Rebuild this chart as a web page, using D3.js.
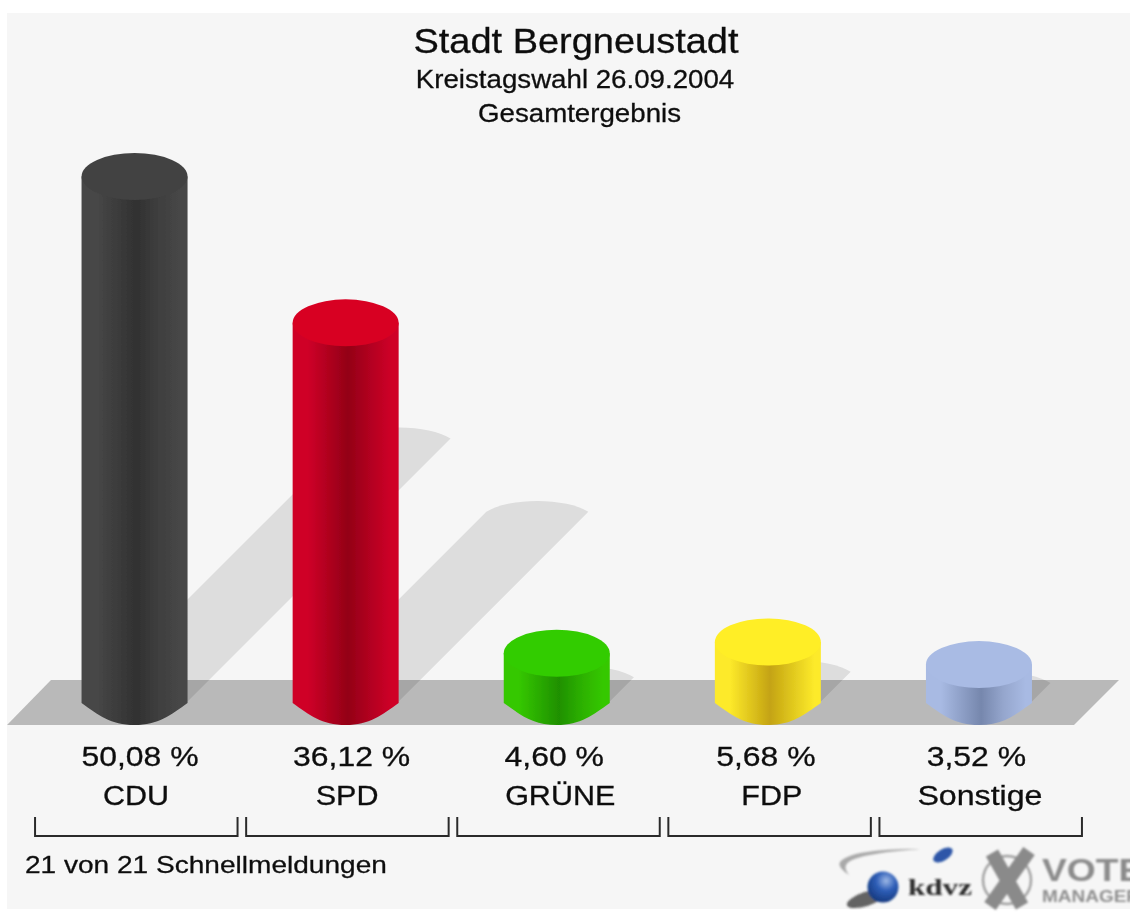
<!DOCTYPE html>
<html>
<head>
<meta charset="utf-8">
<title>Stadt Bergneustadt</title>
<script src="https://cdn.jsdelivr.net/npm/d3@7"></script>
<style>
  body { margin: 0; background: #fff; }
  svg { display: block; }
  text { font-family: "Liberation Sans", Arial, sans-serif; fill: #101010; stroke: #101010; stroke-width: 0.3px; }
</style>
</head>
<body>
<div id="chart"></div>
<script>
const categories = ['CDU', 'SPD', 'GRÜNE', 'FDP', 'Sonstige'];
const values = [50.08, 36.12, 4.60, 5.68, 3.52];
const titleLines = ['Stadt Bergneustadt', 'Kreistagswahl 26.09.2004', 'Gesamtergebnis'];
const footer = '21 von 21 Schnellmeldungen';

// top, edge, dark middle, right side
const topColors = ['#434343', '#d80024', '#33cc00', '#ffee26', '#a9bbe4'];
const edgeColors = ['#474747', '#cf0028', '#35c800', '#fdea2a', '#a8bae3'];
const darkColors = ['#313131', '#930016', '#1f9000', '#c4a312', '#7687ad'];
const midColors = ['#3f3f3f', '#b20020', '#2cb000', '#e0c81e', '#95a6cd'];

const width = 1130, height = 913;
const baseY = 725, floorTop = 680;
const radius = 53, capRy = 23.5;

const svg = d3.select('#chart').append('svg')
  .attr('width', width)
  .attr('height', height);

const defs = svg.append('defs');

function addBlur(id, dev) {
  defs.append('filter')
    .attr('id', id)
    .attr('filterUnits', 'userSpaceOnUse')
    .attr('x', 0).attr('y', 0).attr('width', width).attr('height', height)
    .append('feGaussianBlur')
    .attr('stdDeviation', dev);
}
addBlur('soft', 0.65);
addBlur('softer', 0.9);

categories.forEach(function(c, i) {
  const grad = defs.append('linearGradient').attr('id', 'side' + i);
  grad.append('stop').attr('offset', '0%').attr('stop-color', edgeColors[i]);
  grad.append('stop').attr('offset', '14%').attr('stop-color', edgeColors[i]);
  grad.append('stop').attr('offset', '52%').attr('stop-color', darkColors[i]);
  grad.append('stop').attr('offset', '73%').attr('stop-color', midColors[i]);
  grad.append('stop').attr('offset', '94%').attr('stop-color', edgeColors[i]);
  grad.append('stop').attr('offset', '100%').attr('stop-color', edgeColors[i]);
});

const x = d3.scaleBand().domain(categories).range([29, 1084.5]);
const y = d3.scaleLinear().domain([0, 50.08]).range([678, 153]);
const shadowLen = d3.scaleLinear().domain([0, 50.08]).range([0, 263]);
const center = function(d) { return x(d) + x.bandwidth() / 2; };
const percent = function(v) { return v.toFixed(2).replace('.', ',') + ' %'; };

// the reference type is stretched sideways, keep the glyph height and widen it
function stretch(sel, factor) {
  sel.each(function(d, i) {
    const f = typeof factor === 'function' ? factor(d, i) : factor;
    d3.select(this)
      .attr('lengthAdjust', 'spacingAndGlyphs')
      .attr('textLength', this.getComputedTextLength() * f);
  });
}

const root = svg.append('g').attr('filter', 'url(#soft)');

root.append('rect')
  .attr('x', 7).attr('y', 13)
  .attr('width', width - 7).attr('height', 896)
  .attr('fill', '#f6f6f6');

// floor
root.append('path')
  .attr('d', 'M7,' + baseY + 'L51,' + floorTop + 'L1119,' + floorTop + 'L1074,' + baseY + 'Z')
  .attr('fill', '#b9b9b9');

// shadows
root.selectAll('path.shadow')
  .data(categories)
  .enter().append('path')
  .attr('class', 'shadow')
  .attr('fill', '#000')
  .attr('fill-opacity', 0.1)
  .attr('d', function(d, i) {
    const sx = center(d) + radius, sy = baseY - capRy;
    const len = shadowLen(values[i]);
    const w = 102;
    return 'M' + sx + ',' + sy +
      'L' + (sx + len) + ',' + (sy - len) +
      'A60,23 0 0 0 ' + (sx + len - w) + ',' + (sy - len) +
      'L' + (sx - w) + ',' + sy + 'Z';
  });

// cylinders
const bars = root.selectAll('g.bar')
  .data(categories)
  .enter().append('g')
  .attr('class', 'bar');

bars.append('path')
  .attr('fill', function(d, i) { return 'url(#side' + i + ')'; })
  .attr('d', function(d, i) {
    const cx = center(d), capY = y(values[i]) + capRy, sideY = baseY - 22;
    const p = d3.path();
    p.moveTo(cx - radius, capY);
    p.lineTo(cx - radius, sideY);
    p.bezierCurveTo(cx - 36, sideY + 12, cx - 24, baseY, cx, baseY);
    p.bezierCurveTo(cx + 24, baseY, cx + 36, sideY + 12, cx + radius, sideY);
    p.lineTo(cx + radius, capY);
    p.closePath();
    return p.toString();
  });

bars.append('ellipse')
  .attr('cx', center)
  .attr('cy', function(d, i) { return y(values[i]) + capRy; })
  .attr('rx', radius)
  .attr('ry', capRy)
  .attr('fill', function(d, i) { return topColors[i]; });

// title
const titleSizes = [35, 25.5, 25.5];
const titleBase = [53, 88, 122];
const titleCenter = [576, 575, 579.5];
root.selectAll('text.title')
  .data(titleLines)
  .enter().append('text')
  .attr('class', 'title')
  .attr('x', function(d, i) { return titleCenter[i]; })
  .attr('y', function(d, i) { return titleBase[i]; })
  .attr('text-anchor', 'middle')
  .attr('font-size', function(d, i) { return titleSizes[i]; })
  .text(function(d) { return d; })
  .call(stretch, 1.085);

// value and name labels
const valueShift = [5.5, 6, -2.5, -2, -2.5];
const nameShift = [1.5, 1.5, 3.5, 4, 1];
root.selectAll('text.value')
  .data(categories)
  .enter().append('text')
  .attr('class', 'value')
  .attr('x', function(d, i) { return center(d) + valueShift[i]; })
  .attr('y', 766)
  .attr('text-anchor', 'middle')
  .attr('font-size', 28)
  .text(function(d, i) { return percent(values[i]); })
  .call(stretch, 1.14);

root.selectAll('text.name')
  .data(categories)
  .enter().append('text')
  .attr('class', 'name')
  .attr('x', function(d, i) { return center(d) + nameShift[i]; })
  .attr('y', 805)
  .attr('text-anchor', 'middle')
  .attr('font-size', 27)
  .text(function(d) { return d; })
  .call(stretch, function(d) { return d === 'Sonstige' ? 1.19 : 1.13; });

// brackets
root.selectAll('path.bracket')
  .data(categories)
  .enter().append('path')
  .attr('class', 'bracket')
  .attr('fill', 'none')
  .attr('stroke', '#2c2c2c')
  .attr('stroke-width', 2)
  .attr('d', function(d) {
    const l = center(d) - 99.5, r = center(d) + 103;
    return 'M' + l + ',817V836H' + r + 'V817';
  });

root.append('text')
  .attr('x', 25)
  .attr('y', 873)
  .attr('font-size', 24.5)
  .text(footer)
  .call(stretch, 1.145);

// logos
const logo = root.append('g').attr('filter', 'url(#softer)');

logo.append('path')
  .attr('d', 'M920,849C885,849 850,851 840,862C838,866 842,870 849,875C844,868 844,864 852,860C865,854 895,851 920,849Z')
  .attr('fill', '#a9a9a9');

logo.append('ellipse')
  .attr('cx', 943).attr('cy', 855)
  .attr('rx', 11).attr('ry', 5.5)
  .attr('transform', 'rotate(-32 943 855)')
  .attr('fill', '#2d57a8');

logo.append('ellipse')
  .attr('cx', 866).attr('cy', 899)
  .attr('rx', 20).attr('ry', 7)
  .attr('transform', 'rotate(-18 866 899)')
  .attr('fill', '#333')
  .attr('fill-opacity', 0.75);

const sphere = defs.append('radialGradient')
  .attr('id', 'sphere')
  .attr('cx', '60%').attr('cy', '30%').attr('r', '70%');
sphere.append('stop').attr('offset', '0%').attr('stop-color', '#9db8e6');
sphere.append('stop').attr('offset', '45%').attr('stop-color', '#2f5fb8');
sphere.append('stop').attr('offset', '100%').attr('stop-color', '#163a80');

logo.append('circle')
  .attr('cx', 883).attr('cy', 887).attr('r', 15.5)
  .attr('fill', 'url(#sphere)');

logo.append('text')
  .attr('x', 908).attr('y', 895)
  .attr('font-size', 23)
  .attr('font-weight', 'bold')
  .attr('textLength', 64)
  .attr('lengthAdjust', 'spacingAndGlyphs')
  .style('font-family', '"Liberation Serif", serif')
  .style('fill', '#2b2b2b')
  .style('stroke', 'none')
  .text('kdvz');

logo.append('circle')
  .attr('cx', 1007).attr('cy', 880).attr('r', 24)
  .attr('fill', 'none')
  .attr('stroke', '#a2a2a2')
  .attr('stroke-width', 2.5);

logo.append('path')
  .attr('d', 'M992,853L1022,906M1029,851L990,906')
  .attr('fill', 'none')
  .attr('stroke', '#8a8a8a')
  .attr('stroke-width', 14);

logo.append('text')
  .attr('x', 1042).attr('y', 881)
  .attr('font-size', 31)
  .attr('font-weight', 'bold')
  .style('fill', '#8b8b8b')
  .style('stroke', 'none')
  .text('VOTE')
  .call(stretch, 1.2);

logo.append('text')
  .attr('x', 1042).attr('y', 902)
  .attr('font-size', 16.5)
  .attr('font-weight', 'bold')
  .style('fill', '#8f8f8f')
  .style('stroke', 'none')
  .text('MANAGER')
  .call(stretch, 1.15);
</script>
</body>
</html>
